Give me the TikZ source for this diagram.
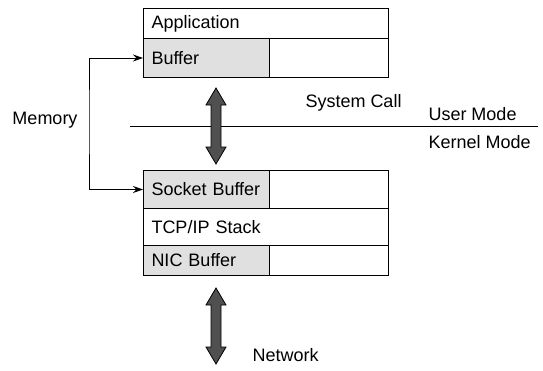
\documentclass[tikz,border=0pt]{standalone}
\usepackage{fontspec}
\setmainfont{Liberation Sans}
\usetikzlibrary{arrows.meta}
\definecolor{bufgray}{RGB}{224,224,224}
\definecolor{arrgray}{RGB}{80,80,80}

\begin{document}
\begin{tikzpicture}[x=1pt, y=-1pt, line width=1pt,
    font=\fontsize{18}{22}\selectfont,
    cell/.style = {draw, anchor=north west, align=left, inner xsep=8pt, inner ysep=0pt},
    grey/.style = {cell, fill=bufgray, text width=110pt},
    wide/.style = {cell, text width=229pt},
    rest/.style = {cell, minimum width=119pt},
    lbl/.style = {anchor=west, inner sep=0pt},
    dblarrow/.pic = {
      \draw [fill=arrgray, line width=0.8pt] (0,-38) -- (10,-21) -- (5,-21) -- (5,21) -- (10,21)
        -- (0,38) -- (-10,21) -- (-5,21) -- (-5,-21) -- (-10,-21) -- cycle;
    }]
    \useasboundingbox (0,0) rectangle (543,370);

    \node (app) [wide, minimum height=30pt] at (143,8) {Application};
    \node (tcp) [wide, minimum height=37pt] at (143,208) {TCP/IP Stack};

    \foreach \n/\y/\h/\t in {buf/38/39/Buffer, sock/170/38/Socket Buffer, nic/245/30/NIC Buffer}
    {
      \node (\n) [grey, minimum height=\h pt] at (143,\y) {\t};
      \node (\n-r) [rest, minimum height=\h pt] at (269,\y) {};
    }

    % user / kernel border
    \coordinate (modeL) at (130,126);
    \coordinate (modeR) at (538,126);
    \draw (modeL) -- (modeR);

    \pic (syscall) at (216,126) {dblarrow};
    \pic (net) at (216,326) {dblarrow};

    \coordinate (mem) at (89,120);
    \draw [{Stealth[length=10pt,width=7pt]}-{Stealth[length=10pt,width=7pt]}]
      (buf.west) -| (mem) |- (sock.west);

    \node (memory) [lbl] at (12,120) {Memory};
    \node (call) [lbl] at (305,103) {System Call};
    \node (user) [lbl] at (428,114) {User Mode};
    \node (kernel) [lbl] at (428,142) {Kernel Mode};
    \node (network) [lbl] at (252,355) {Network};
  \end{tikzpicture}
\end{document}
